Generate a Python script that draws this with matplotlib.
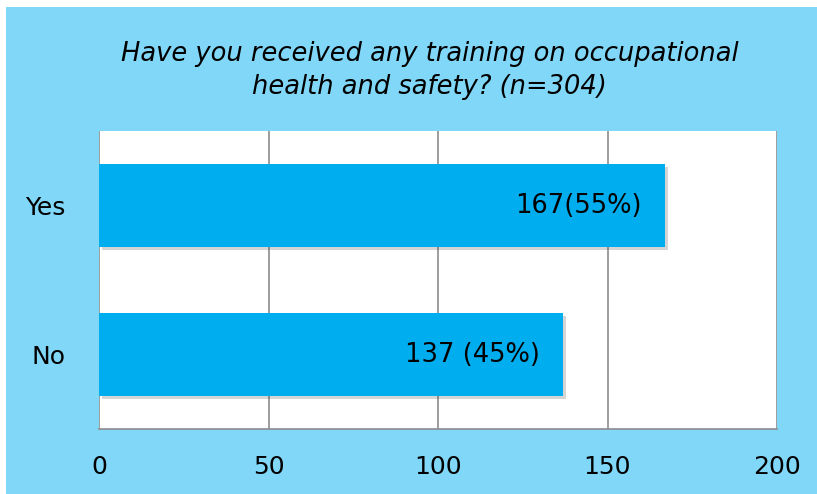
import matplotlib
matplotlib.use("Agg")
import matplotlib.pyplot as plt
import matplotlib.patheffects as pe
from matplotlib.patches import Rectangle

# data
categories = ["No", "Yes"]
counts = [137, 167]
bar_labels = ["137 (45%)", "167(55%)"]
x_ticks = [0, 50, 100, 150, 200]
title = "Have you received any training on occupational\nhealth and safety? (n=304)"

bg_blue = "#81D7F8"
bar_blue = "#00ADEE"
grid_grey = "#8C8C8C"

fig = plt.figure(figsize=(8.17, 4.94), dpi=100)
fig.patch.set_facecolor("white")
# light blue panel (thin white strip on top and left)
fig.add_artist(Rectangle((6 / 817, 0), 1, 1 - 7 / 494, transform=fig.transFigure,
                         facecolor=bg_blue, edgecolor="none", zorder=0))

ax = fig.add_axes([99 / 817, 1 - 429 / 494, 678 / 817, 298 / 494])
ax.set_facecolor("white")

bars = ax.barh(categories, counts, height=0.56, color=bar_blue, zorder=3)
for b in bars:
    b.set_path_effects([pe.SimplePatchShadow(offset=(2, -2), alpha=0.22, shadow_rgbFace="#444444"),
                        pe.Normal()])

for b, lab in zip(bars, bar_labels):
    ax.annotate(lab, (b.get_width(), b.get_y() + b.get_height() / 2),
                xytext=(-17, 0), textcoords="offset points",
                ha="right", va="center", fontsize=18.5, color="black", zorder=4)

ax.set_xlim(0, 200)
ax.set_ylim(-0.5, 1.5)
ax.set_xticks(x_ticks)
ax.xaxis.grid(True, color=grid_grey, linewidth=1.2, zorder=1)
ax.set_axisbelow(True)
ax.tick_params(axis="both", length=0, labelsize=18, colors="black")
ax.tick_params(axis="x", pad=19)
ax.tick_params(axis="y", pad=24)

for s in ["top", "right", "left"]:
    ax.spines[s].set_visible(False)
ax.spines["bottom"].set_color(grid_grey)
ax.spines["bottom"].set_linewidth(1.2)

fig.text(0.526, 0.858, title, ha="center", va="center", fontsize=18.5,
         style="italic", linespacing=1.35, color="black")

fig.savefig("out.png", dpi=100, facecolor=fig.get_facecolor())
